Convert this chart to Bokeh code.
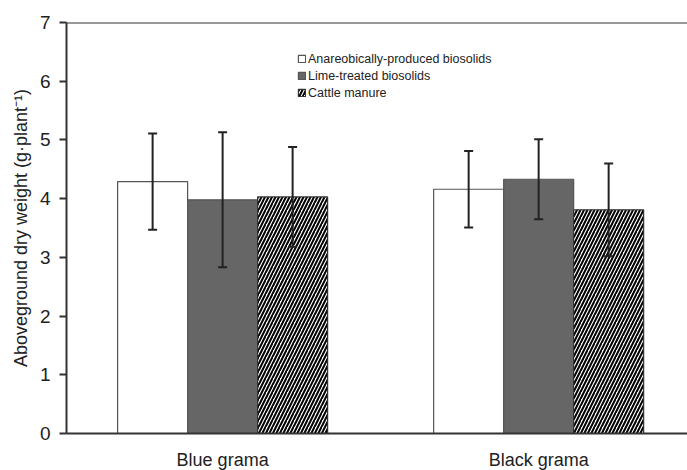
from bokeh.plotting import figure
from bokeh.models import ColumnDataSource, Range1d, Span, Whisker, TeeHead, FixedTicker, Legend, LegendItem
from bokeh.embed import file_html
from bokeh.resources import INLINE

categories = ["Blue grama", "Black grama"]
series = ["Anareobically-produced biosolids", "Lime-treated biosolids", "Cattle manure"]
means_anaerobic = [4.29, 4.16]
err_anaerobic = [0.82, 0.65]
means_lime = [3.98, 4.33]
err_lime = [1.15, 0.68]
means_manure = [4.03, 3.81]
err_manure = [0.85, 0.79]
y_ticks = [0, 1, 2, 3, 4, 5, 6, 7]

FONT = "Liberation Sans"
bw = 0.2215
centers = [i + 1 for i in range(len(categories))]

p = figure(output_backend="svg", toolbar_location=None,
           frame_width=621, frame_height=411,
           min_border_left=66, min_border_top=22, min_border_right=0, min_border_bottom=37,
           x_range=Range1d(0.506, 2.471), y_range=Range1d(0, 7))
p.outline_line_color = None
p.grid.visible = False
p.background_fill_color = "white"

styles = [
    dict(fill_color="white", line_color="#555555", line_width=1.2),
    dict(fill_color="#666666", line_color="#555555", line_width=1.2),
    dict(fill_color="white", line_color="#333333", line_width=1.2,
         hatch_pattern="/", hatch_color="black", hatch_scale=7, hatch_weight=2),
]
all_means = [means_anaerobic, means_lime, means_manure]
all_errs = [err_anaerobic, err_lime, err_manure]
items = []
for k, (name, m, e, st) in enumerate(zip(series, all_means, all_errs, styles)):
    xs = [c + (k - 1) * bw for c in centers]
    src = ColumnDataSource(dict(x=xs, top=m,
                                upper=[a + b for a, b in zip(m, e)],
                                lower=[a - b for a, b in zip(m, e)]))
    r = p.vbar(x="x", top="top", bottom=0, width=bw, source=src, **st)
    items.append(LegendItem(label=name, renderers=[r]))
    w = Whisker(base="x", upper="upper", lower="lower", source=src, level="overlay",
                line_color="#222222", line_width=2,
                upper_head=TeeHead(size=9, line_color="#222222", line_width=2),
                lower_head=TeeHead(size=9, line_color="#222222", line_width=2))
    p.add_layout(w)

legend = Legend(items=items, location=(231, 333), orientation="vertical",
                label_text_font=FONT, label_text_font_size="12.5px", label_text_color="#222222",
                glyph_width=9, glyph_height=9, label_height=15, label_standoff=2,
                spacing=2, padding=0, margin=0,
                background_fill_alpha=0, border_line_color=None)
p.add_layout(legend, "center")

p.add_layout(Span(location=7, dimension="width", line_color="#333333", line_width=2))

p.yaxis.ticker = FixedTicker(ticks=y_ticks)
p.yaxis.axis_label = "Aboveground dry weight (g·plant⁻¹)"
p.yaxis.axis_label_text_font = FONT
p.yaxis.axis_label_text_font_style = "normal"
p.yaxis.axis_label_text_font_size = "18px"
p.yaxis.axis_label_text_color = "#222222"
p.yaxis.axis_label_standoff = 6
p.yaxis.major_label_text_font = FONT
p.yaxis.major_label_text_font_size = "19px"
p.yaxis.major_label_text_color = "#222222"
p.yaxis.major_label_standoff = 9
p.yaxis.major_tick_out = 7
p.yaxis.major_tick_in = 0
p.yaxis.minor_tick_line_color = None
p.yaxis.axis_line_width = 2
p.yaxis.axis_line_color = "#333333"
p.yaxis.major_tick_line_width = 2
p.yaxis.major_tick_line_color = "#333333"

p.xaxis.ticker = FixedTicker(ticks=centers)
p.xaxis.major_label_overrides = {c: n for c, n in zip(centers, categories)}
p.xaxis.major_label_text_font = FONT
p.xaxis.major_label_text_font_size = "18px"
p.xaxis.major_label_text_color = "#222222"
p.xaxis.major_tick_line_color = None
p.xaxis.minor_tick_line_color = None
p.xaxis.major_label_standoff = 10
p.xaxis.axis_line_width = 2
p.xaxis.axis_line_color = "#333333"

open("out.html", "w").write(file_html(p, INLINE))
